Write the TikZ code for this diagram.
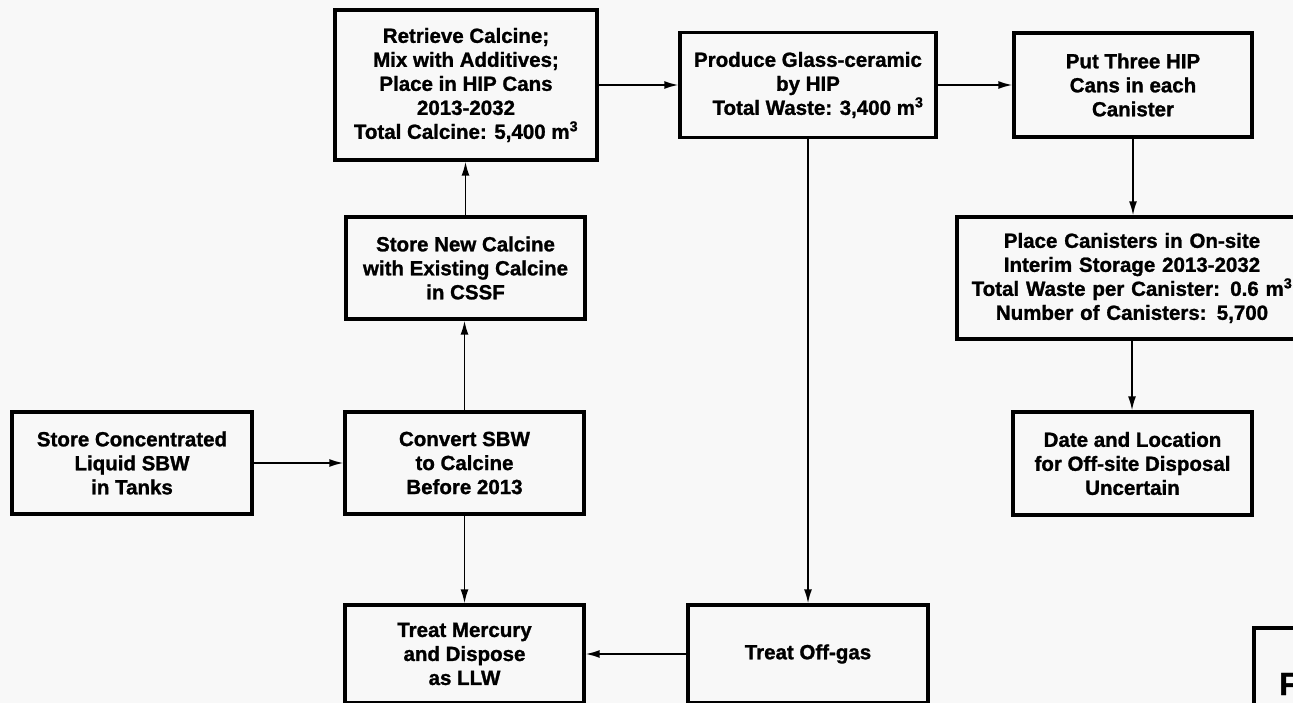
\documentclass[tikz,border=0pt]{standalone}
\usepackage{fontspec}
\setmainfont{Liberation Sans}[BoldFeatures={FakeBold=1.2}]
\usetikzlibrary{arrows.meta}
\definecolor{bg}{RGB}{248,248,248}
\begin{document}
\begin{tikzpicture}[x=1pt,y=-1pt,
  box/.style={draw, line width=3.4pt, rectangle, inner sep=0pt, align=center,
    font=\bfseries\fontsize{20.5}{24}\selectfont, fill=bg},
  arr/.style={line width=1.6pt, -{Latex[length=14pt,width=8pt]}},
  ln/.style={line width=1.6pt}]
\path[use as bounding box, fill=bg] (0,0) rectangle (1293,703);
\clip (0,0) rectangle (1293,703);

\node[box, minimum width=262pt, minimum height=150pt] (ret) at (466,85)
  {Retrieve Calcine;\\Mix with Additives;\\Place in HIP Cans\\2013-2032\\Total Calcine: 5,400 m\textsuperscript{3}};
\node[box, minimum width=256pt, minimum height=105pt] (prod) at (808,85)
  {Produce Glass-ceramic\\by HIP\\\hspace*{20pt}Total Waste: 3,400 m\textsuperscript{3}};
\node[box, minimum width=238pt, minimum height=104pt] (put) at (1133,85)
  {Put Three HIP\\Cans in each\\Canister};
\node[box, minimum width=239pt, minimum height=102pt] (new) at (465.5,268)
  {Store New Calcine\\with Existing Calcine\\in CSSF};
\node[box, text width=350pt, minimum height=122pt] (place) at (1132,278)
  {Place Canisters in On-site\\Interim Storage 2013-2032\\Total Waste per Canister: 0.6 m\textsuperscript{3}\\Number of Canisters: 5,700};
\node[box, minimum width=240pt, minimum height=102pt] (conc) at (132,463)
  {Store Concentrated\\Liquid SBW\\in Tanks};
\node[box, minimum width=239pt, minimum height=102pt] (conv) at (464.5,463)
  {Convert SBW\\to Calcine\\Before 2013};
\node[box, minimum width=239pt, minimum height=103pt] (date) at (1132.5,463.5)
  {Date and Location\\for Off-site Disposal\\Uncertain};
\node[box, minimum width=239pt, minimum height=98pt] (merc) at (464.5,654)
  {Treat Mercury\\and Dispose\\as LLW};
\node[box, minimum width=240pt, minimum height=98pt] (off) at (808,654)
  {Treat Off-gas};

\coordinate (fb1) at (1254,720);
\coordinate (fb2) at (1254,628);
\coordinate (fb3) at (1310,628);
\draw[line width=3.4pt] (fb1) -- (fb2) -- (fb3);
\node[anchor=base west, inner sep=0pt, font=\bfseries\fontsize{32}{36}\selectfont] (fig) at (1279,695) {F};

\draw[arr] (ret.east) -- (prod.west);
\draw[arr] (prod.east) -- (put.west);
\draw[arr] (new.north) -- (new.north |- ret.south);
\draw[arr] (conv.north) -- (conv.north |- new.south);
\draw[arr] (conc.east) -- (conv.west);
\draw[arr] (conv.south) -- (merc.north);
\draw[arr] (off.west) -- (merc.east);
\draw[arr] (prod.south) -- (off.north);
\draw[arr] (put.south) -- (put.south |- place.north);
\draw[arr] (place.south) -- (place.south |- date.north);
\end{tikzpicture}
\end{document}
